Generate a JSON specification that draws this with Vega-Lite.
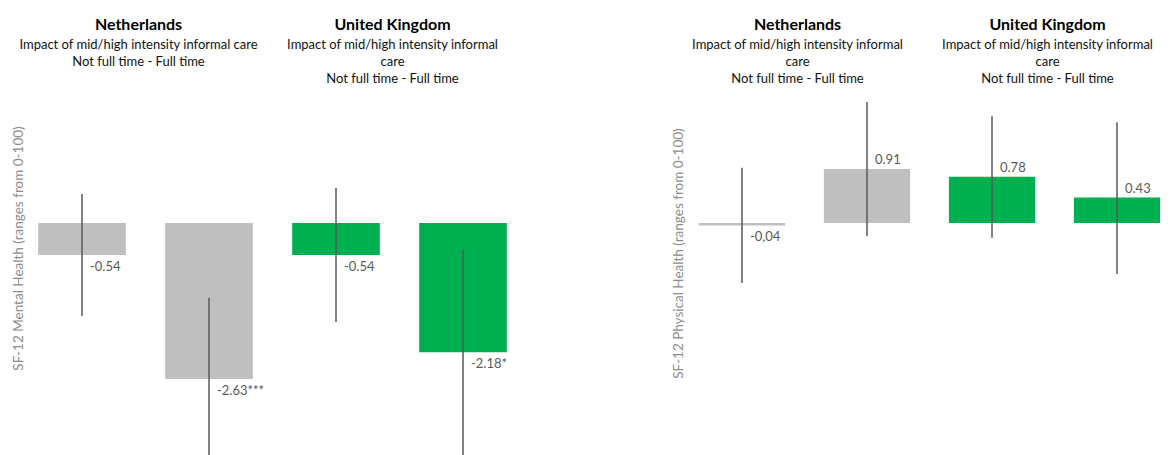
{
  "$schema": "https://vega.github.io/schema/vega-lite/v6.json",
  "background": "white",
  "padding": {"left": 11.5, "top": 17, "right": 0, "bottom": 0},
  "datasets": {
    "estimates": [
      {"outcome": "Mental", "country": "Netherlands", "estimate": "1", "value": -0.54, "lo": -1.57, "hi": 0.49, "label": "-0.54"},
      {"outcome": "Mental", "country": "Netherlands", "estimate": "2", "value": -2.63, "lo": -4.0, "hi": -1.26, "label": "-2.63***"},
      {"outcome": "Mental", "country": "United Kingdom", "estimate": "1", "value": -0.54, "lo": -1.67, "hi": 0.59, "label": "-0.54"},
      {"outcome": "Mental", "country": "United Kingdom", "estimate": "2", "value": -2.18, "lo": -3.91, "hi": -0.45, "label": "-2.18*"},
      {"outcome": "Physical", "country": "Netherlands", "estimate": "1", "value": -0.04, "lo": -1.01, "hi": 0.93, "label": "-0,04"},
      {"outcome": "Physical", "country": "Netherlands", "estimate": "2", "value": 0.91, "lo": -0.22, "hi": 2.04, "label": "0.91"},
      {"outcome": "Physical", "country": "United Kingdom", "estimate": "1", "value": 0.78, "lo": -0.25, "hi": 1.8, "label": "0.78"},
      {"outcome": "Physical", "country": "United Kingdom", "estimate": "2", "value": 0.43, "lo": -0.86, "hi": 1.7, "label": "0.43"}
    ]
  },
  "config": {
    "font": "Lato",
    "view": {"stroke": null},
    "title": {
      "font": "Lato", "fontSize": 16, "fontWeight": "bold", "color": "#000000",
      "subtitleFont": "Lato", "subtitleFontSize": 13, "subtitleColor": "#111111",
      "subtitleLineHeight": 17, "subtitlePadding": 6,
      "anchor": "middle", "offset": 10, "dx": -7
    },
    "axisY": {
      "domain": false, "ticks": false, "labels": false, "grid": false,
      "titleFont": "Lato", "titleFontSize": 13.5, "titleFontWeight": "normal", "titleColor": "#8c8c8c",
      "titleAngle": -90, "titleAlign": "center", "titleBaseline": "middle"
    }
  },
  "spacing": 145,
  "hconcat": [
    {
      "spacing": 0,
      "bounds": "flush",
      "hconcat": [
        {
          "width": 254, "height": 359,
          "title": {"text": "Netherlands", "subtitle": ["Impact of mid/high intensity informal care", "Not full time - Full time", ""]},
          "data": {"name": "estimates"},
          "transform": [{"filter": "datum.outcome === 'Mental' && datum.country === 'Netherlands'"}],
          "encoding": {
            "x": {"field": "estimate", "type": "nominal", "scale": {"paddingInner": 0.31, "paddingOuter": 0.155}, "axis": null},
            "y": {"field": "value", "type": "quantitative", "scale": {"domain": [-3.912, 2.142], "nice": false, "zero": false},
                  "axis": {"title": "SF-12 Mental Health (ranges from 0-100)", "titleX": 0, "titleY": 152}}
          },
          "layer": [
            {"mark": {"type": "bar", "clip": true}, "encoding": {
              "color": {"field": "country", "type": "nominal", "scale": {"domain": ["Netherlands", "United Kingdom"], "range": ["#bfbfbf", "#00b050"]}, "legend": null}}},
            {"mark": {"type": "rule", "color": "#a6a6a6", "strokeWidth": 1}, "encoding": {"y": {"datum": 0, "type": "quantitative"}}},
            {"mark": {"type": "rule", "color": "#595959", "strokeWidth": 1.5, "clip": true}, "encoding": {"y": {"field": "lo", "type": "quantitative"}, "y2": {"field": "hi"}}},
            {"transform": [{"filter": "datum.value < 0"}], "mark": {"type": "text", "align": "left", "baseline": "middle", "dx": 8, "dy": 12, "fontSize": 13, "color": "#595959"},
             "encoding": {"text": {"field": "label"}}},
            {"transform": [{"filter": "datum.value >= 0"}], "mark": {"type": "text", "align": "left", "baseline": "middle", "dx": 8, "dy": -9, "fontSize": 13, "color": "#595959"},
             "encoding": {"text": {"field": "label"}}}
          ]
        },
        {
          "width": 254, "height": 359,
          "title": {"text": "United Kingdom", "subtitle": ["Impact of mid/high intensity informal", "care", "Not full time - Full time"]},
          "data": {"name": "estimates"},
          "transform": [{"filter": "datum.outcome === 'Mental' && datum.country === 'United Kingdom'"}],
          "encoding": {
            "x": {"field": "estimate", "type": "nominal", "scale": {"paddingInner": 0.31, "paddingOuter": 0.155}, "axis": null},
            "y": {"field": "value", "type": "quantitative", "scale": {"domain": [-3.912, 2.142], "nice": false, "zero": false}, "axis": null}
          },
          "layer": [
            {"mark": {"type": "bar", "clip": true}, "encoding": {
              "color": {"field": "country", "type": "nominal", "scale": {"domain": ["Netherlands", "United Kingdom"], "range": ["#bfbfbf", "#00b050"]}, "legend": null}}},
            {"mark": {"type": "rule", "color": "#a6a6a6", "strokeWidth": 1}, "encoding": {"y": {"datum": 0, "type": "quantitative", "axis": null}}},
            {"mark": {"type": "rule", "color": "#595959", "strokeWidth": 1.5, "clip": true}, "encoding": {"y": {"field": "lo", "type": "quantitative", "axis": null}, "y2": {"field": "hi"}}},
            {"transform": [{"filter": "datum.value < 0"}], "mark": {"type": "text", "align": "left", "baseline": "middle", "dx": 8, "dy": 12, "fontSize": 13, "color": "#595959"},
             "encoding": {"text": {"field": "label"}}},
            {"transform": [{"filter": "datum.value >= 0"}], "mark": {"type": "text", "align": "left", "baseline": "middle", "dx": 8, "dy": -9, "fontSize": 13, "color": "#595959"},
             "encoding": {"text": {"field": "label"}}}
          ]
        }
      ]
    },
    {
      "spacing": 0,
      "bounds": "flush",
      "hconcat": [
        {
          "width": 250, "height": 359,
          "title": {"text": "Netherlands", "subtitle": ["Impact of mid/high intensity informal", "care", "Not full time - Full time"]},
          "data": {"name": "estimates"},
          "transform": [{"filter": "datum.outcome === 'Physical' && datum.country === 'Netherlands'"}],
          "encoding": {
            "x": {"field": "estimate", "type": "nominal", "scale": {"paddingInner": 0.31, "paddingOuter": 0.155}, "axis": null},
            "y": {"field": "value", "type": "quantitative", "scale": {"domain": [-3.912, 2.142], "nice": false, "zero": false},
                  "axis": {"title": "SF-12 Physical Health (ranges from 0-100)", "titleX": -1, "titleY": 157}}
          },
          "layer": [
            {"mark": {"type": "bar", "clip": true}, "encoding": {
              "color": {"field": "country", "type": "nominal", "scale": {"domain": ["Netherlands", "United Kingdom"], "range": ["#bfbfbf", "#00b050"]}, "legend": null}}},
            {"mark": {"type": "rule", "color": "#a6a6a6", "strokeWidth": 1}, "encoding": {"y": {"datum": 0, "type": "quantitative"}}},
            {"mark": {"type": "rule", "color": "#595959", "strokeWidth": 1.5, "clip": true}, "encoding": {"y": {"field": "lo", "type": "quantitative"}, "y2": {"field": "hi"}}},
            {"transform": [{"filter": "datum.value < 0"}], "mark": {"type": "text", "align": "left", "baseline": "middle", "dx": 8, "dy": 12, "fontSize": 13, "color": "#595959"},
             "encoding": {"text": {"field": "label"}}},
            {"transform": [{"filter": "datum.value >= 0"}], "mark": {"type": "text", "align": "left", "baseline": "middle", "dx": 8, "dy": -9, "fontSize": 13, "color": "#595959"},
             "encoding": {"text": {"field": "label"}}}
          ]
        },
        {
          "width": 250, "height": 359,
          "title": {"text": "United Kingdom", "subtitle": ["Impact of mid/high intensity informal", "care", "Not full time - Full time"]},
          "data": {"name": "estimates"},
          "transform": [{"filter": "datum.outcome === 'Physical' && datum.country === 'United Kingdom'"}],
          "encoding": {
            "x": {"field": "estimate", "type": "nominal", "scale": {"paddingInner": 0.31, "paddingOuter": 0.155}, "axis": null},
            "y": {"field": "value", "type": "quantitative", "scale": {"domain": [-3.912, 2.142], "nice": false, "zero": false}, "axis": null}
          },
          "layer": [
            {"mark": {"type": "bar", "clip": true}, "encoding": {
              "color": {"field": "country", "type": "nominal", "scale": {"domain": ["Netherlands", "United Kingdom"], "range": ["#bfbfbf", "#00b050"]}, "legend": null}}},
            {"mark": {"type": "rule", "color": "#a6a6a6", "strokeWidth": 1}, "encoding": {"y": {"datum": 0, "type": "quantitative", "axis": null}}},
            {"mark": {"type": "rule", "color": "#595959", "strokeWidth": 1.5, "clip": true}, "encoding": {"y": {"field": "lo", "type": "quantitative", "axis": null}, "y2": {"field": "hi"}}},
            {"transform": [{"filter": "datum.value < 0"}], "mark": {"type": "text", "align": "left", "baseline": "middle", "dx": 8, "dy": 12, "fontSize": 13, "color": "#595959"},
             "encoding": {"text": {"field": "label"}}},
            {"transform": [{"filter": "datum.value >= 0"}], "mark": {"type": "text", "align": "left", "baseline": "middle", "dx": 8, "dy": -9, "fontSize": 13, "color": "#595959"},
             "encoding": {"text": {"field": "label"}}}
          ]
        }
      ]
    }
  ]
}
